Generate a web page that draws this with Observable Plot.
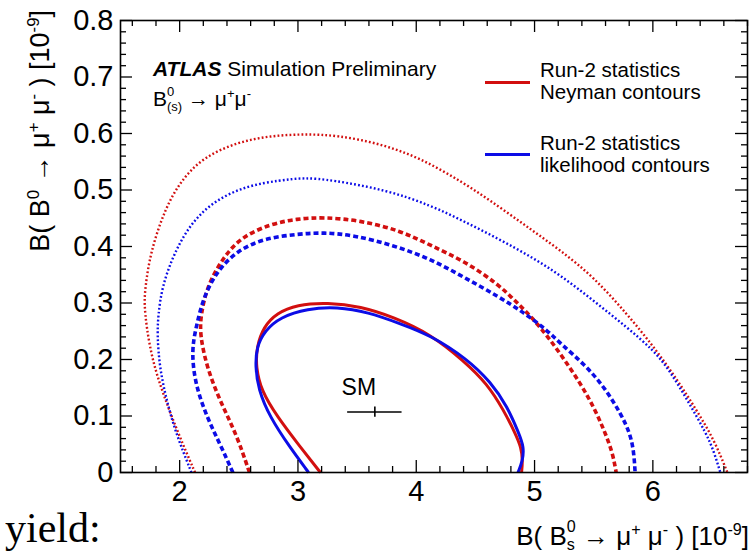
<!DOCTYPE html>
<html>
<head>
<meta charset="utf-8">
<script src="https://cdn.jsdelivr.net/npm/d3@7"></script>
<script src="https://cdn.jsdelivr.net/npm/@observablehq/plot@0.6"></script>
<style>
  html, body { margin: 0; padding: 0; background: #fff; }
  #wrap { position: relative; width: 751px; height: 554px; overflow: hidden; font-family: "Liberation Sans", Arial, Helvetica, sans-serif; color: #000; }
  #wrap svg { position: absolute; left: 0; top: 0; }
  .t { position: absolute; white-space: nowrap; }
  .sp { font-size: 0.62em; vertical-align: 0.62em; line-height: 0; }
  .stk { display: inline-block; font-size: 0.62em; line-height: 1.15; vertical-align: -0.36em; text-align: left; }
  .stk span { display: block; }
</style>
</head>
<body>
<div id="wrap"></div>
<script>
// ---- data ----
const red = "#d20f0f";
const blue = "#0c0ce6";

// Neyman contours (red)
const neymanSolid = [[3.19,0],[3.02,0.045],[2.82,0.10],[2.69,0.145],[2.645,0.186],[2.65,0.222],[2.71,0.258],[2.82,0.282],[2.99,0.297],[3.25,0.301],[3.53,0.294],[3.81,0.275],[4.12,0.245],[4.40,0.198],[4.60,0.157],[4.74,0.110],[4.84,0.068],[4.886,0.045],[4.90,0.021],[4.89,0]];
const neymanDashed = [[2.59,0],[2.48,0.068],[2.34,0.127],[2.23,0.186],[2.17,0.245],[2.18,0.28],[2.23,0.328],[2.35,0.375],[2.51,0.416],[2.77,0.44],[2.99,0.449],[3.22,0.452],[3.53,0.446],[3.87,0.428],[4.12,0.402],[4.40,0.375],[4.69,0.334],[4.86,0.299],[5.03,0.263],[5.22,0.21],[5.39,0.157],[5.50,0.116],[5.59,0.074],[5.66,0.035],[5.69,0]];
const neymanDotted = [[2.13,0],[1.99,0.068],[1.86,0.139],[1.77,0.198],[1.72,0.257],[1.70,0.30],[1.71,0.328],[1.75,0.387],[1.87,0.464],[2.01,0.517],[2.20,0.558],[2.49,0.585],[2.77,0.596],[3.05,0.599],[3.33,0.597],[3.70,0.582],[4.04,0.556],[4.40,0.513],[4.69,0.472],[4.97,0.43],[5.22,0.393],[5.50,0.346],[5.78,0.281],[6.01,0.222],[6.21,0.163],[6.37,0.11],[6.52,0.057],[6.63,0]];

// likelihood contours (blue)
const likeSolid = [[3.09,0],[2.93,0.045],[2.76,0.099],[2.665,0.147],[2.64,0.188],[2.65,0.222],[2.72,0.251],[2.85,0.275],[3.08,0.29],[3.33,0.293],[3.59,0.284],[3.87,0.263],[4.12,0.243],[4.43,0.201],[4.63,0.16],[4.77,0.117],[4.87,0.068],[4.91,0.045],[4.90,0.021],[4.86,0]];
const likeDashed = [[2.45,0],[2.34,0.051],[2.23,0.098],[2.13,0.157],[2.10,0.216],[2.14,0.258],[2.20,0.31],[2.32,0.358],[2.49,0.393],[2.71,0.414],[2.99,0.422],[3.22,0.425],[3.47,0.42],[3.81,0.402],[4.12,0.378],[4.40,0.346],[4.69,0.312],[4.91,0.283],[5.11,0.251],[5.22,0.228],[5.42,0.192],[5.59,0.151],[5.73,0.104],[5.81,0.068],[5.84,0.035],[5.85,0]];
const likeDotted = [[2.10,0],[1.97,0.068],[1.89,0.127],[1.83,0.186],[1.81,0.245],[1.82,0.28],[1.85,0.328],[1.95,0.387],[2.09,0.44],[2.29,0.481],[2.57,0.508],[2.85,0.517],[3.05,0.522],[3.28,0.518],[3.75,0.50],[4.12,0.473],[4.40,0.445],[4.70,0.413],[4.97,0.382],[5.22,0.349],[5.50,0.304],[5.78,0.257],[6.01,0.216],[6.15,0.178],[6.30,0.125],[6.45,0.07],[6.52,0.035],[6.57,0]];

// Standard Model point
const smPoint = [{x: 3.65, xErr: 0.23, y: 0.107, yErr: 0.009, label: "SM"}];

// axes
const xDomain = [1.5, 6.8];
const yDomain = [0, 0.8];
const xMajor = [2, 3, 4, 5, 6];
const xMinor = [1.6,1.8,2.2,2.4,2.6,2.8,3.2,3.4,3.6,3.8,4.2,4.4,4.6,4.8,5.2,5.4,5.6,5.8,6.2,6.4,6.6,6.8];
const yMajor = [0, 0.1, 0.2, 0.3, 0.4, 0.5, 0.6, 0.7, 0.8];
const yMinor = [0.02,0.04,0.06,0.08,0.12,0.14,0.16,0.18,0.22,0.24,0.26,0.28,0.32,0.34,0.36,0.38,0.42,0.44,0.46,0.48,0.52,0.54,0.56,0.58,0.62,0.64,0.66,0.68,0.72,0.74,0.76,0.78];
const yTickLabels = ["0", "0.1", "0.2", "0.3", "0.4", "0.5", "0.6", "0.7", "0.8"];

// ---- layout ----
const W = 751, H = 554;
const mL = 120, mR = 4, mT = 20, mB = 82;
const innerW = W - mL - mR, innerH = H - mT - mB;
const major = 12, minor = 6;

const curves = [
  {d: neymanDotted, c: red, w: 2.4, dash: "1.8 2.2"},
  {d: likeDotted, c: blue, w: 2.4, dash: "1.8 2.2"},
  {d: neymanDashed, c: red, w: 3.6, dash: "5 3"},
  {d: likeDashed, c: blue, w: 3.6, dash: "5 3"},
  {d: neymanSolid, c: red, w: 3, dash: null},
  {d: likeSolid, c: blue, w: 3, dash: null}
];

const chart = Plot.plot({
  width: W, height: H,
  marginLeft: mL, marginRight: mR, marginTop: mT, marginBottom: mB,
  x: {domain: xDomain, axis: null},
  y: {domain: yDomain, axis: null},
  style: {fontFamily: "'Liberation Sans', Arial, Helvetica, sans-serif", background: "white", overflow: "visible"},
  marks: [
    ...curves.map(k => Plot.line(k.d, {x: d => d[0], y: d => d[1], stroke: k.c, strokeWidth: k.w, strokeDasharray: k.dash, strokeLinecap: "butt", strokeLinejoin: "round", curve: "basis"})),
    // SM marker
    Plot.ruleY(smPoint, {y: "y", x1: d => d.x - d.xErr, x2: d => d.x + d.xErr, stroke: "black", strokeWidth: 1.6}),
    Plot.ruleX(smPoint, {x: "x", y1: d => d.y - d.yErr, y2: d => d.y + d.yErr, stroke: "black", strokeWidth: 1.6}),
    Plot.text(smPoint, {x: "x", y: "y", text: "label", dx: -16, dy: -24, fontSize: 23, fill: "black"}),
    // inward ticks, bottom / top
    Plot.tickX(xMajor, {x: d => d, insetTop: innerH - major, stroke: "black", strokeWidth: 1.3}),
    Plot.tickX(xMinor, {x: d => d, insetTop: innerH - minor, stroke: "black", strokeWidth: 1.3}),
    Plot.tickX(xMajor, {x: d => d, insetBottom: innerH - major, stroke: "black", strokeWidth: 1.3}),
    Plot.tickX(xMinor, {x: d => d, insetBottom: innerH - minor, stroke: "black", strokeWidth: 1.3}),
    // inward ticks, left / right
    Plot.tickY(yMajor, {y: d => d, insetRight: innerW - major, stroke: "black", strokeWidth: 1.3}),
    Plot.tickY(yMinor, {y: d => d, insetRight: innerW - minor, stroke: "black", strokeWidth: 1.3}),
    Plot.tickY(yMajor, {y: d => d, insetLeft: innerW - major, stroke: "black", strokeWidth: 1.3}),
    Plot.tickY(yMinor, {y: d => d, insetLeft: innerW - minor, stroke: "black", strokeWidth: 1.3}),
    // tick labels
    Plot.text(xMajor, {x: d => d, frameAnchor: "bottom", lineAnchor: "top", dy: 8, text: d => String(d), fontSize: 29, fill: "black"}),
    Plot.text(yMajor, {y: d => d, frameAnchor: "left", textAnchor: "end", dx: -7, text: (d, i) => yTickLabels[i], fontSize: 29, fill: "black"}),
    Plot.frame({stroke: "black", strokeWidth: 1.6})
  ]
});

const wrap = document.getElementById("wrap");
wrap.appendChild(chart);

function addText(html, css) {
  const el = document.createElement("div");
  el.className = "t";
  el.innerHTML = html;
  Object.assign(el.style, css);
  wrap.appendChild(el);
  return el;
}

// baseline helper: line-height == font size -> baseline at ~0.85*F from top
function topFor(baseline, F) { return (baseline - 0.85 * F) + "px"; }

// header text
const FA = 21;
addText('<b><i>ATLAS</i></b> Simulation Preliminary', {left: "153px", top: topFor(76, FA), fontSize: FA + "px", lineHeight: FA + "px"});
addText('B<span class="stk"><span>0</span><span>(s)</span></span> \u2192 \u03bc<span class="sp">+</span>\u03bc<span class="sp">-</span>', {left: "153px", top: topFor(103, FA), fontSize: FA + "px", lineHeight: FA + "px"});

// legend
const FL = 20.5;
const legend = [
  {c: red, lines: ["Run-2 statistics", "Neyman contours"], base: 77, ly: 82},
  {c: blue, lines: ["Run-2 statistics", "likelihood contours"], base: 150, ly: 154}
];
legend.forEach(L => {
  const sw = document.createElement("div");
  Object.assign(sw.style, {position: "absolute", left: "485px", top: (L.ly - 1.5) + "px", width: "45px", height: "3px", background: L.c});
  wrap.appendChild(sw);
  L.lines.forEach((s, i) => addText(s, {left: "540px", top: topFor(L.base + 22 * i, FL), fontSize: FL + "px", lineHeight: FL + "px"}));
});

// x axis title (right aligned)
const FX = 26;
addText('B( B<span class="stk"><span>0</span><span>s</span></span> \u2192 \u03bc<span class="sp">+</span> \u03bc<span class="sp">-</span> ) [10<span class="sp">-9</span>]',
  {right: "2px", top: topFor(539, FX), fontSize: FX + "px", lineHeight: FX + "px"});

// y axis title (rotated, end at top)
const FY = 27, boxW = 460;
addText('B( B<span class="sp">0</span> \u2192 \u03bc<span class="sp">+</span> \u03bc<span class="sp">-</span> ) [10<span class="sp">-9</span>]',
  {left: "0px", top: "0px", width: boxW + "px", textAlign: "right", fontSize: FY + "px", lineHeight: FY + "px",
   transformOrigin: "0 0", transform: `translate(${50 - 0.85 * FY}px, ${10 + boxW}px) rotate(-90deg)`});

// stray slide text at the bottom
addText('yield:', {left: "5px", top: (542 - 0.84 * 42) + "px", fontSize: "42px", lineHeight: "42px", fontFamily: "'Liberation Serif', 'Times New Roman', serif"});
</script>
</body>
</html>
